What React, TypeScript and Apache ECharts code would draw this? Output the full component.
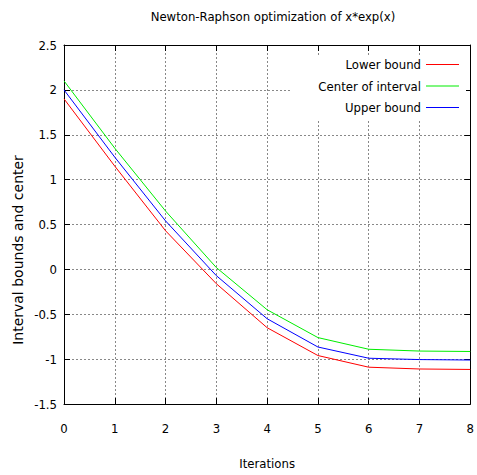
import React, { useEffect, useRef } from "react";
import * as echarts from "echarts";

const chartTitle = "Newton-Raphson optimization of x*exp(x)";
const xAxisTitle = "Iterations";
const yAxisTitle = "Interval bounds and center";
const seriesNames = ["Lower bound", "Center of interval", "Upper bound"];
const iterations = [0, 1, 2, 3, 4, 5, 6, 7, 8];
const lowerBound = [1.9, 1.15, 0.43, -0.16, -0.65, -0.96, -1.09, -1.11, -1.115];
const centerOfInterval = [2.1, 1.35, 0.65, 0.02, -0.45, -0.76, -0.89, -0.91, -0.915];
const upperBound = [2.0, 1.25, 0.54, -0.07, -0.55, -0.865, -0.99, -1.005, -1.01];
const seriesColors = ["#ff0000", "#00ee00", "#0000ff"];

const COND = "'DejaVu Sans Condensed', 'DejaVu Sans', sans-serif";

export default function App() {
  const ref = useRef<HTMLDivElement>(null);
  useEffect(() => {
    if (!ref.current) return;
    const chart = echarts.init(ref.current, null, { renderer: "svg" });
    const values = [lowerBound, centerOfInterval, upperBound];
    const gridLine = { show: true, lineStyle: { color: "#888", width: 1, type: [2, 2] } };
    const tickInside = { show: true, inside: true, length: 6, lineStyle: { color: "#000" } };
    chart.setOption({
      animation: false,
      backgroundColor: "#fff",
      title: {
        text: chartTitle,
        left: 268,
        top: 5,
        textAlign: "center",
        textStyle: { fontFamily: COND, fontSize: 13, fontWeight: "normal", color: "#000" },
      },
      graphic: [
        {
          type: "text",
          x: 18,
          y: 250,
          rotation: Math.PI / 2,
          style: {
            text: yAxisTitle,
            fontFamily: "'DejaVu Sans', sans-serif",
            fontSize: 14,
            fill: "#000",
            align: "center",
            verticalAlign: "middle",
          },
        },
      ],
      legend: {
        orient: "vertical",
        right: 11,
        top: 55,
        align: "right",
        padding: [2, 7, 4, 10],
        backgroundColor: "#fff",
        itemWidth: 33,
        itemHeight: 15,
        itemGap: 6.5,
        icon: "path://M0,7L33,7L33,8L0,8Z",
        textStyle: { fontFamily: COND, fontSize: 13, color: "#000", width: 120, align: "right", lineHeight: 15 },
        data: seriesNames,
      },
      grid: { left: 64, right: 4, top: 45, bottom: 69, containLabel: false },
      xAxis: [
        {
          type: "value",
          min: 0,
          max: 8,
          interval: 1,
          name: xAxisTitle,
          nameLocation: "middle",
          nameGap: 53,
          nameTextStyle: { fontFamily: COND, fontSize: 13, color: "#000" },
          axisLine: { show: true, onZero: false, lineStyle: { color: "#000", width: 1 } },
          axisTick: tickInside,
          axisLabel: { fontFamily: COND, fontSize: 13, color: "#000", margin: 18 },
          splitLine: gridLine,
        },
        {
          type: "value",
          position: "top",
          min: 0,
          max: 8,
          interval: 1,
          axisLine: { show: true, onZero: false, lineStyle: { color: "#000", width: 1 } },
          axisTick: tickInside,
          axisLabel: { show: false },
          splitLine: { show: false },
        },
      ],
      yAxis: [
        {
          type: "value",
          min: -1.5,
          max: 2.5,
          interval: 0.5,
          axisLine: { show: true, onZero: false, lineStyle: { color: "#000", width: 1 } },
          axisTick: tickInside,
          axisLabel: { fontFamily: COND, fontSize: 13, color: "#000", margin: 7 },
          splitLine: gridLine,
        },
        {
          type: "value",
          position: "right",
          min: -1.5,
          max: 2.5,
          interval: 0.5,
          axisLine: { show: true, onZero: false, lineStyle: { color: "#000", width: 1 } },
          axisTick: tickInside,
          axisLabel: { show: false },
          splitLine: { show: false },
        },
      ],
      series: seriesNames.map((name, i) => ({
        name,
        type: "line",
        xAxisIndex: 0,
        yAxisIndex: 0,
        data: iterations.map((x, j) => [x, values[i][j]]),
        showSymbol: false,
        symbol: "none",
        lineStyle: { color: seriesColors[i], width: 1 },
        itemStyle: { color: seriesColors[i] },
        z: 3 + i,
      })),
    });
    return () => chart.dispose();
  }, []);
  return <div ref={ref} style={{ width: 477, height: 475, position: "absolute", left: 0, top: 0 }} />;
}
